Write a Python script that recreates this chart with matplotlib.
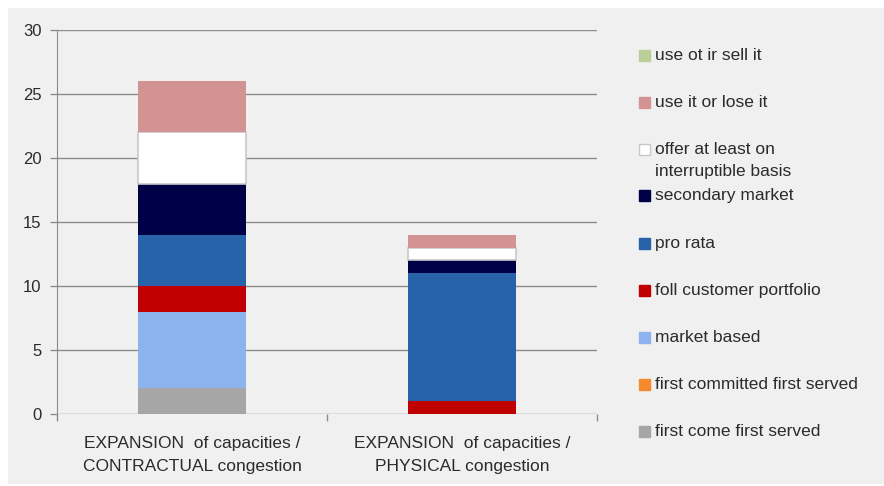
import matplotlib.pyplot as plt
from matplotlib.patches import Rectangle

plt.rcParams['font.family'] = ['Liberation Sans', 'DejaVu Sans']

groups = ['EXPANSION  of capacities /\nCONTRACTUAL congestion',
          'EXPANSION  of capacities /\nPHYSICAL congestion']

# stack order, bottom to top
methods = ['first come first served', 'first committed first served', 'market based',
           'foll customer portfolio', 'pro rata', 'secondary market',
           'offer at least on\ninterruptible basis', 'use it or lose it', 'use ot ir sell it']
contractual = [2, 0, 6, 2, 4, 4, 4, 4, 0]
physical = [0, 0, 0, 1, 10, 1, 1, 1, 0]
colors = ['#a6a6a6', '#f58a2d', '#8db3ee', '#c00000', '#2862a8', '#000046',
          '#ffffff', '#d39393', '#b9d09a']
y_ticks = [0, 5, 10, 15, 20, 25, 30]

W, H = 884, 486
fig = plt.figure(figsize=(W / 100, H / 100), dpi=100, facecolor='white')
fig.patches.append(Rectangle((8 / W, 2 / H), 1, (H - 10) / H, transform=fig.transFigure,
                             facecolor='#f0f0f0', edgecolor='none', zorder=-10))

ax = fig.add_axes([57 / W, 1 - 414 / H, 540 / W, 384 / H])
ax.set_facecolor('none')

x = [0.5, 1.5]
bottom = [0, 0]
for name, c, p, col in zip(methods, contractual, physical, colors):
    edge = '#c8c8c8' if col == '#ffffff' else 'none'
    ax.bar(x, [c, p], width=0.4, bottom=bottom, color=col, edgecolor=edge,
           linewidth=1.2, zorder=3)
    bottom = [bottom[0] + c, bottom[1] + p]

ax.set_xlim(0, 2)
ax.set_ylim(0, 30)
ax.set_yticks(y_ticks)
ax.tick_params(axis='y', length=5, width=1, color='#8c8c8c', labelsize=12,
               labelcolor='#2b2b2b', pad=6)
ax.yaxis.grid(True, color='#8c8c8c', linewidth=1, zorder=0)

# category boundaries get the tick marks, labels sit under each bar
ax.set_xticks([0, 1, 2])
ax.set_xticklabels([])
ax.tick_params(axis='x', length=5, width=1, color='#8c8c8c')
for xi, label in zip(x, groups):
    ax.text(xi, -1.75, label, ha='center', va='top', fontsize=12.5, color='#2b2b2b',
            linespacing=1.62)

for side in ['top', 'right']:
    ax.spines[side].set_visible(False)
for side in ['left', 'bottom']:
    ax.spines[side].set_color('#8c8c8c')
ax.spines['bottom'].set_visible(False)

# legend, top entry first
row_y = [55, 102, 149, 195, 243, 290, 337, 384, 431]
for i, (name, col) in enumerate(zip(methods[::-1], colors[::-1])):
    yp = 1 - row_y[i] / H
    edge = '#c8c8c8' if col == '#ffffff' else col
    fig.patches.append(Rectangle((639 / W, yp - 6 / H), 11 / W, 11 / H,
                                 transform=fig.transFigure, facecolor=col,
                                 edgecolor=edge, linewidth=1))
    fig.text(655 / W, yp + 7 / H, name, ha='left', va='top', fontsize=12.5,
             color='#2b2b2b', linespacing=1.62)

fig.savefig('out.png', dpi=100, facecolor='white')
